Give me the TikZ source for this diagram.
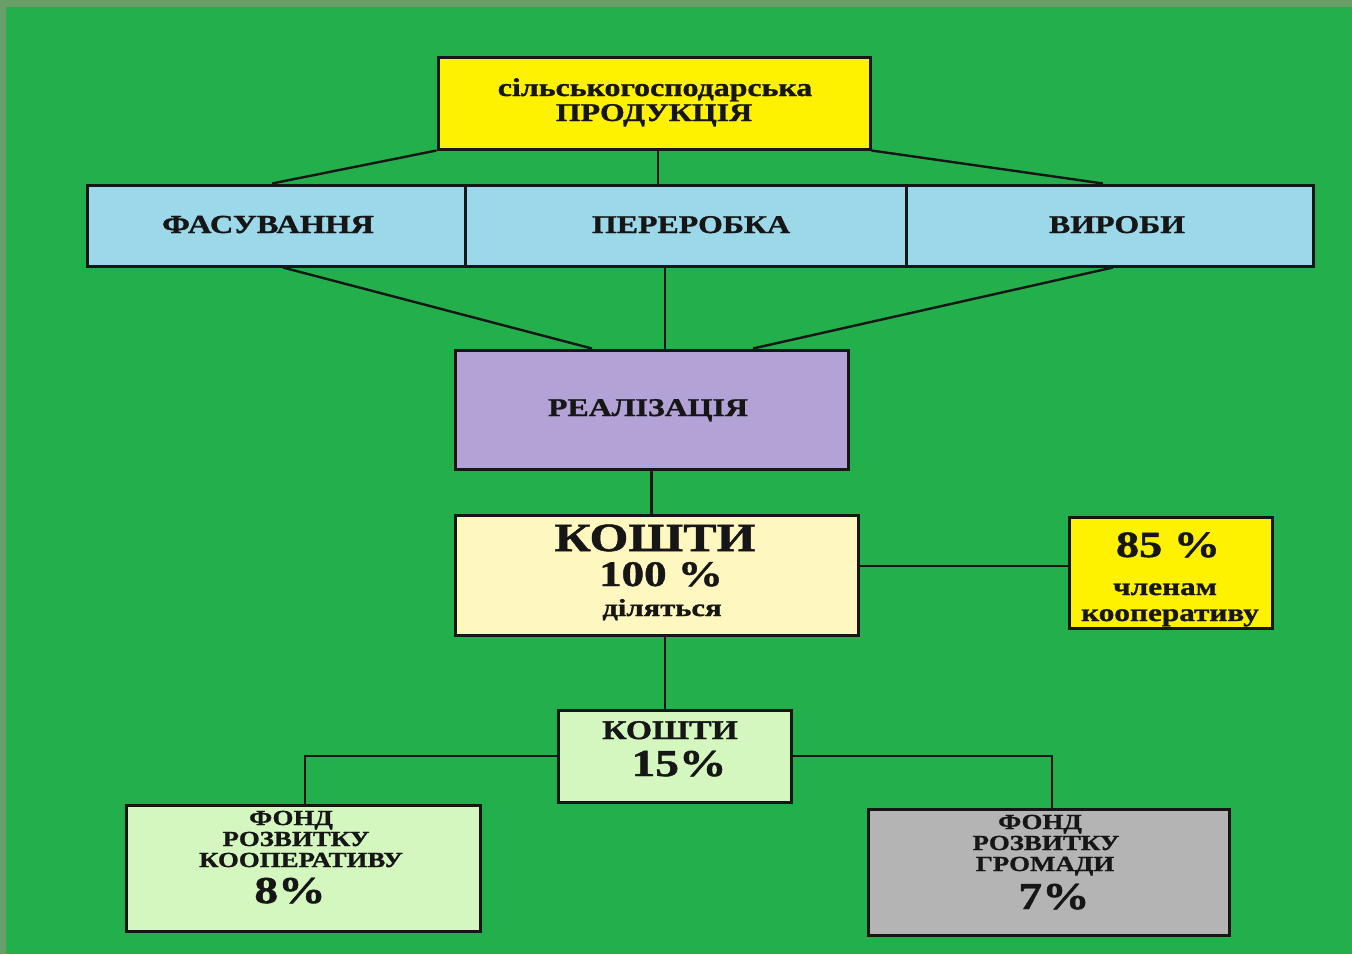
\documentclass[tikz,border=0pt]{standalone}
\usepackage{fontspec}
\setmainfont{Liberation Serif}[FakeStretch=1.25,FakeBold=1.2]
\definecolor{frame}{RGB}{106,158,104}
\definecolor{bg}{RGB}{35,176,76}
\definecolor{yel}{RGB}{255,242,0}
\definecolor{lblue}{RGB}{155,217,234}
\definecolor{lav}{RGB}{179,162,214}
\definecolor{cream}{RGB}{255,247,192}
\definecolor{lgreen}{RGB}{212,247,192}
\definecolor{gry}{RGB}{180,180,180}
\definecolor{ink}{RGB}{22,22,22}
\newcommand\fsz[1]{\fontsize{#1}{#1}\selectfont\bfseries}
\begin{document}
\begin{tikzpicture}[x=1pt,y=-1pt,
  box/.style={draw=ink, line width=3pt, inner sep=0pt},
  lbl/.style={anchor=base, inner sep=0pt, text=ink},
  link/.style={draw=ink, line width=2.4pt}]
\fill[frame] (0,0) rectangle (1352,954);
\fill[bg] (6,7) rectangle (1352,954);
\useasboundingbox (0,0) rectangle (1352,954);

% boxes
\node[box, fill=yel, minimum width=432pt, minimum height=92pt] (top) at (654,103) {};
\node[box, fill=lblue, minimum width=378pt, minimum height=81pt] (fas) at (276,225.5) {};
\node[box, fill=lblue, minimum width=441pt, minimum height=81pt] (per) at (685.5,225.5) {};
\node[box, fill=lblue, minimum width=407pt, minimum height=81pt] (vyr) at (1109.5,225.5) {};
\node[box, fill=lav, minimum width=393pt, minimum height=119pt] (real) at (651.5,409.5) {};
\node[box, fill=cream, minimum width=403pt, minimum height=120pt] (kosh) at (656.5,575) {};
\node[box, fill=yel, minimum width=203pt, minimum height=111pt] (p85) at (1170.5,572.5) {};
\node[box, fill=lgreen, minimum width=233pt, minimum height=92pt] (k15) at (674.5,756) {};
\node[box, fill=lgreen, minimum width=354pt, minimum height=126pt] (fund1) at (303,868) {};
\node[box, fill=gry, minimum width=361pt, minimum height=126pt] (fund2) at (1048.5,872) {};

% connectors
\draw[link] (top.south west) -- ([xshift=-4pt]fas.north);
\draw[link] ([xshift=4pt]top.south) -- ([xshift=4pt]top.south |- per.north);
\draw[link] (top.south east) -- ([xshift=-6.5pt]vyr.north);
\draw[link] ([xshift=7pt]fas.south) -- ([xshift=-59.5pt]real.north);
\draw[link] ([xshift=-20.5pt]per.south) -- ([xshift=-20.5pt]per.south |- real.north);
\draw[link] ([xshift=3.5pt]vyr.south) -- ([xshift=101.5pt]real.north);
\draw[link] (real.south) -- (real.south |- kosh.north);
\draw[link] ([yshift=9pt]kosh.east) -- ([yshift=9pt]kosh.east -| p85.west);
\draw[link] ([xshift=8.5pt]kosh.south) -- ([xshift=8.5pt]kosh.south |- k15.north);
\draw[link] (k15.west) -| ([xshift=2pt]fund1.north);
\draw[link] (k15.east) -| ([xshift=3.5pt]fund2.north);

% texts
\node[lbl] (t1) at (655,96) {\fsz{25.5}сільськогосподарська};
\node[lbl] (t2) at (654,121) {\fsz{25.5}ПРОДУКЦІЯ};
\node[lbl] (t3) at (268,233) {\fsz{26}ФАСУВАННЯ};
\node[lbl] (t4) at (691,233) {\fsz{25.5}ПЕРЕРОБКА};
\node[lbl] (t5) at (1117,233) {\fsz{25.5}ВИРОБИ};
\node[lbl] (t6) at (648,416) {\fsz{25.5}РЕАЛІЗАЦІЯ};
\node[lbl] (t7) at (655,551) {\fsz{40}КОШТИ};
\node[lbl] (t8) at (661,586) {\fsz{36}100 \%};
\node[lbl] (t9) at (662,616) {\fsz{24.5}діляться};
\node[lbl] (t10) at (1168,557) {\fsz{37}85 \%};
\node[lbl] (t11) at (1165,595) {\fsz{25}членам};
\node[lbl] (t12) at (1170,621) {\fsz{25}кооперативу};
\node[lbl] (t13) at (670,739) {\fsz{27}КОШТИ};
\node[lbl] (t14) at (679,776) {\fsz{38}15\%};
\node[lbl] (t15) at (291,825) {\fsz{21.5}ФОНД};
\node[lbl] (t16) at (296,846) {\fsz{21.5}РОЗВИТКУ};
\node[lbl] (t17) at (301,867) {\fsz{21.5}КООПЕРАТИВУ};
\node[lbl] (t18) at (290,903) {\fsz{38}8\%};
\node[lbl] (t19) at (1040,829) {\fsz{21.5}ФОНД};
\node[lbl] (t20) at (1046,850) {\fsz{21.5}РОЗВИТКУ};
\node[lbl] (t21) at (1045,871) {\fsz{21.5}ГРОМАДИ};
\node[lbl] (t22) at (1054,909) {\fsz{38}7\%};
\end{tikzpicture}
\end{document}
